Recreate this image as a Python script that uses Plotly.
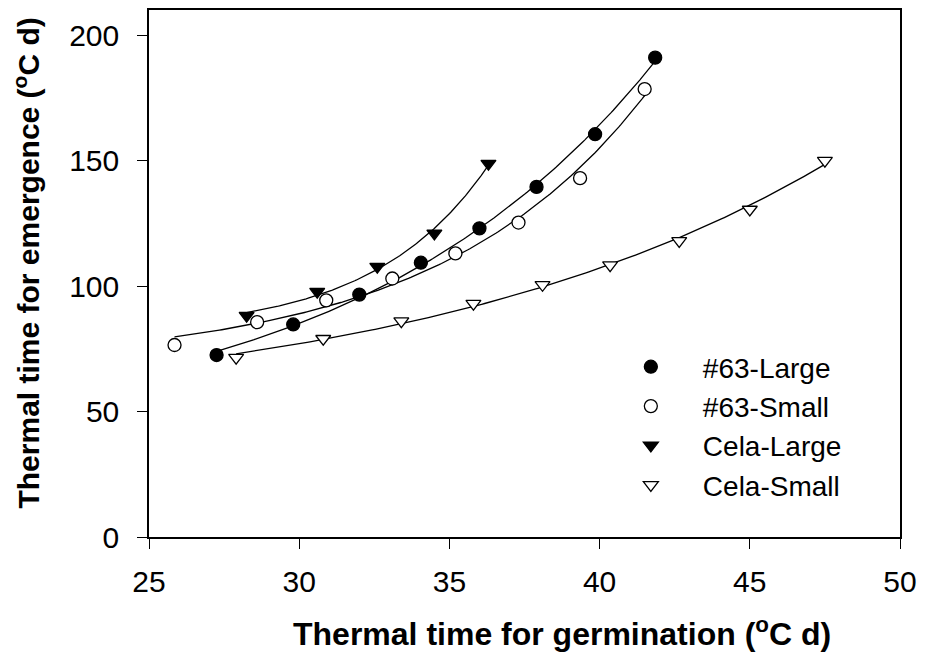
import numpy as np
import plotly.graph_objects as go

# ---- data ----
names = ["#63-Large", "#63-Small", "Cela-Large", "Cela-Small"]

x_63L = [27.25, 29.8, 32.0, 34.05, 36.0, 37.9, 39.85, 41.85]
y_63L = [72.5, 84.7, 96.6, 109.3, 123.0, 139.5, 160.5, 191.0]

x_63S = [25.85, 28.6, 30.9, 33.1, 35.2, 37.3, 39.35, 41.5]
y_63S = [76.5, 85.6, 94.3, 103.0, 113.0, 125.3, 143.0, 178.5]

x_CL = [28.25, 30.6, 32.6, 34.5, 36.3]
y_CL = [88.2, 97.8, 107.7, 121.0, 148.8]

x_CS = [27.9, 30.8, 33.4, 35.8, 38.1, 40.35, 42.65, 45.0, 47.5]
y_CS = [71.5, 79.0, 86.0, 93.0, 100.5, 108.3, 118.0, 130.5, 150.0]

x_ticks = [25, 30, 35, 40, 45, 50]
y_ticks = [0, 50, 100, 150, 200]

series = [
    (names[0], x_63L, y_63L, "circle", "black"),
    (names[1], x_63S, y_63S, "circle", "white"),
    (names[2], x_CL, y_CL, "triangle-down", "black"),
    (names[3], x_CS, y_CS, "triangle-down", "white"),
]


def exp_fit(x, y):
    """Least-squares fit of y = c + a*exp(b*x) (grid search on b)."""
    x = np.asarray(x, float)
    y = np.asarray(y, float)
    best = None
    for b in np.linspace(0.002, 0.6, 3000):
        A = np.column_stack([np.ones_like(x), np.exp(b * (x - x.min()))])
        coef, *_ = np.linalg.lstsq(A, y, rcond=None)
        sse = float(np.sum((A @ coef - y) ** 2))
        if best is None or sse < best[0]:
            best = (sse, b, coef)
    _, b, coef = best
    xs = np.linspace(x.min(), x.max(), 200)
    ys = coef[0] + coef[1] * np.exp(b * (xs - x.min()))
    return xs, ys


fig = go.Figure()

# fitted curves
for name, xv, yv, sym, fill in series:
    xs, ys = exp_fit(xv, yv)
    fig.add_trace(go.Scatter(x=xs, y=ys, mode="lines",
                             line=dict(color="black", width=1.3),
                             showlegend=False, hoverinfo="skip"))

# data points
for name, xv, yv, sym, fill in series:
    fig.add_trace(go.Scatter(
        x=xv, y=yv, mode="markers", name=name,
        marker=dict(symbol=sym, size=13, color=fill,
                    line=dict(color="black", width=1.3)),
    ))

font_family = "Arial, Liberation Sans, sans-serif"

fig.update_layout(
    width=925, height=653,
    margin=dict(l=149, r=21, t=8, b=116),
    paper_bgcolor="white", plot_bgcolor="white",
    font=dict(family=font_family, color="black", size=28),
    showlegend=True,
    legend=dict(x=0.599, y=0.37, xanchor="left", yanchor="top",
                bgcolor="rgba(0,0,0,0)", font=dict(size=28),
                itemwidth=94, tracegroupgap=0),
    xaxis=dict(range=[25, 50], tickvals=x_ticks, ticktext=[str(v) for v in x_ticks],
               showline=True, linecolor="black", linewidth=1.5, mirror=True,
               ticks="outside", ticklen=10, tickwidth=1.3, tickcolor="black",
               showgrid=False, zeroline=False, tickfont=dict(size=30),
               ticklabelstandoff=7),
    yaxis=dict(range=[0, 210], tickvals=y_ticks, ticktext=[str(v) for v in y_ticks],
               showline=True, linecolor="black", linewidth=1.5, mirror=True,
               ticks="outside", ticklen=10, tickwidth=1.3, tickcolor="black",
               showgrid=False, zeroline=False, tickfont=dict(size=30),
               ticklabelstandoff=12),
    annotations=[
        dict(text="<b>Thermal time for germination (<sup>o</sup>C d)</b>",
             xref="paper", yref="paper", x=0.55, y=-0.18,
             xanchor="center", yanchor="middle", showarrow=False,
             font=dict(size=32, family=font_family)),
        dict(text="<b>Thermal time for emergence (<sup>o</sup>C d)</b>",
             xref="paper", yref="paper", x=-0.163, y=0.52,
             xanchor="center", yanchor="middle", showarrow=False, textangle=-90,
             font=dict(size=30, family=font_family)),
    ],
)

fig.write_html("out.html")
